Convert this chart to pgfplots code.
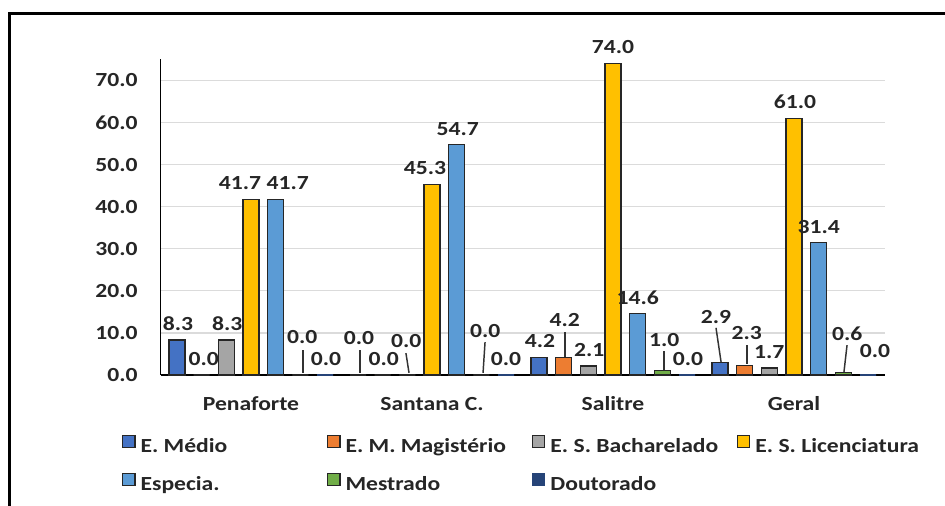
\documentclass[border=0pt]{standalone}
\usepackage{pgfplots}
\pgfplotsset{compat=1.18}
\usepackage{pgfplotstable}
\usepackage{fontspec}
\setmainfont{Carlito}[FakeStretch=1.18]
\definecolor{cMed}{HTML}{4472C4}
\definecolor{cMag}{HTML}{ED7D31}
\definecolor{cBac}{HTML}{A5A5A5}
\definecolor{cLic}{HTML}{FFC000}
\definecolor{cEsp}{HTML}{5B9BD5}
\definecolor{cMes}{HTML}{70AD47}
\definecolor{cDou}{HTML}{264478}
\newcommand\ff{\fontsize{15}{18}\selectfont\bfseries}

% x = group (0 Penaforte, 1 Santana C., 2 Salitre, 3 Geral); dx, dy = label offsets in px
\pgfplotstableread{
x y dx dy
0 8.3 1 0
1 0.0 1 21
2 4.2 1 0
3 2.9 -4 30
}\tMed
\pgfplotstableread{
x y dx dy
0 0.0 2 0
1 0.0 1 0
2 4.2 1 21
3 2.3 2 16
}\tMag
\pgfplotstableread{
x y dx dy
0 8.3 1 0
1 0.0 -1 18
2 2.1 1 0
3 1.7 0 0
}\tBac
\pgfplotstableread{
x y dx dy
0 41.7 -11 0
1 45.3 -7 0
2 74.0 0 0
3 61.0 1 0
}\tLic
\pgfplotstableread{
x y dx dy
0 41.7 12 0
1 54.7 1 0
2 14.6 0 0
3 31.4 0 0
}\tEsp
\pgfplotstableread{
x y dx dy
0 0.0 2 22
1 0.0 4 28
2 1.0 2 15
3 0.6 4 23
}\tMes
\pgfplotstableread{
x y dx dy
0 0.0 1 0
1 0.0 0 0
2 0.0 1 0
3 0.0 7 8
}\tDou

\pgfplotsset{
  mybar/.style={fill=#1, draw=black!85, line width=1pt,
    nodes near coords,
    visualization depends on={\thisrow{dx} \as \dx},
    visualization depends on={\thisrow{dy} \as \dy},
    every node near coord/.append style={font=\ff, text=black!85, inner sep=0pt,
      anchor=center, xshift={\dx*0.75pt}, yshift={(16+\dy)*0.75pt}},
    legend image code/.code={\draw[##1, line width=0.9pt] (0pt,-0.2pt) rectangle (9.3pt,9.1pt);}},
}
\tikzset{ldr/.style={draw=black!80, line width=1.1pt}}

\begin{document}
\begin{tikzpicture}
\ff
\fill[white] (0,0) rectangle (708.75pt,379.5pt);
\draw[line width=2.25pt, black] (7.1pt,-2pt) -- (7.1pt,369.4pt) -- (712pt,369.4pt);
\begin{axis}[
  scale only axis, width=543pt, height=236.8pt,
  at={(120.375pt,98.25pt)}, anchor=south west,
  xmin=-0.5, xmax=3.5, ymin=0, ymax=75, clip=false,
  ybar=6.5pt, bar width=12pt,
  axis x line*=bottom, axis y line*=left,
  x axis line style={-, line width=1.9pt, black},
  y axis line style={-, line width=1.3pt, black},
  xtick={0,1,2,3}, xticklabels={Penaforte, Santana C., Salitre, Geral},
  ytick={0,10,...,70},
  major tick length=0pt,
  ymajorgrids, major grid style={draw=black!14, line width=1pt},
  /pgf/number format/.cd, fixed, fixed zerofill, precision=1, assume math mode=true, /pgfplots/.cd,
  yticklabel style={font=\ff, text=black!85, inner sep=0pt, anchor=east, xshift=-17pt},
  xticklabel style={font=\ff, text=black!85, inner sep=0pt, anchor=north, text height=10.5pt, text depth=0pt, yshift=-15.75pt},
  legend columns=4, legend cell align=left,
  legend style={at={(-0.0532,-0.189)}, anchor=north west, draw=none, fill=none,
    inner sep=0pt, outer sep=0pt, /tikz/column sep=3.75pt, /tikz/row sep=11.75pt,
    nodes={inner sep=0pt, text height=11pt, text depth=3.5pt, font=\ff, text=black!85}},
]
\addplot[mybar=cMed] table[x=x, y=y] {\tMed};
\addlegendentry{\makebox[136pt][l]{E. Médio}}
\addplot[mybar=cMag] table[x=x, y=y] {\tMag};
\addlegendentry{\makebox[136pt][l]{E. M. Magistério}}
\addplot[mybar=cBac] table[x=x, y=y] {\tBac};
\addlegendentry{\makebox[136pt][l]{E. S. Bacharelado}}
\addplot[mybar=cLic] table[x=x, y=y] {\tLic};
\addlegendentry{E. S. Licenciatura}
\addplot[mybar=cEsp] table[x=x, y=y] {\tEsp};
\addlegendentry{\makebox[136pt][l]{Especia.}}
\addplot[mybar=cMes] table[x=x, y=y] {\tMes};
\addlegendentry{\makebox[136pt][l]{Mestrado}}
\addplot[mybar=cDou, draw=cDou] table[x=x, y=y] {\tDou};
\addlegendentry{\makebox[136pt][l]{Doutorado}}
% leader lines of the moved data labels
\draw[ldr] (axis cs:0.287,5.9) -- (axis cs:0.287,0.5);
\draw[ldr] (axis cs:0.602,5.9) -- (axis cs:0.602,0.5);
\draw[ldr] (axis cs:0.856,5.2) -- (axis cs:0.873,0.5);
\draw[ldr] (axis cs:1.293,7.8) -- (axis cs:1.282,0.5);
\draw[ldr] (axis cs:1.735,10.2) -- (axis cs:1.735,4.3);
\draw[ldr] (axis cs:2.282,5.7) -- (axis cs:2.282,1.2);
\draw[ldr] (axis cs:2.569,11.2) -- (axis cs:2.597,3.1);
\draw[ldr] (axis cs:2.740,7.1) -- (axis cs:2.740,2.6);
\draw[ldr] (axis cs:3.293,7.1) -- (axis cs:3.276,0.7);
\end{axis}
\pgfresetboundingbox
\path[use as bounding box] (0,0) rectangle (708.75pt,379.5pt);
\end{tikzpicture}
\end{document}
